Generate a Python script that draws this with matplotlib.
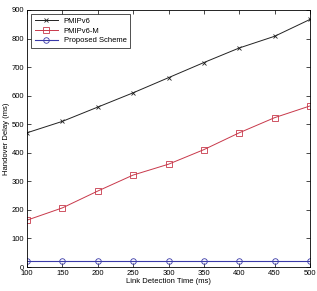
import numpy as np
import matplotlib.pyplot as plt

x = [100, 150, 200, 250, 300, 350, 400, 450, 500]
pmipv6 = [470, 510, 560, 610, 663, 716, 767, 808, 867]
pmipv6_m = [164, 207, 266, 322, 360, 411, 470, 523, 564]
proposed = [22, 22, 22, 22, 22, 22, 22, 22, 22]

plt.rcParams['font.family'] = 'Liberation Sans'
plt.rcParams['font.size'] = 5.5

fig = plt.figure(figsize=(3.17, 2.91), dpi=100)
ax = fig.add_axes([27 / 317, 1 - 267 / 291, (310 - 27) / 317, (267 - 10) / 291])

ax.plot(x, pmipv6, color='#222222', marker='x', ms=3, lw=0.7, mew=0.6, label='PMIPv6')
ax.plot(x, pmipv6_m, color='#c8384a', marker='s', ms=4, lw=0.7, mew=0.6,
        mfc='none', label='PMIPv6-M')
ax.plot(x, proposed, color='#3a3aa8', marker='o', ms=4, lw=0.8, mew=0.6,
        mfc='none', label='Proposed Scheme')

ax.set_xlim(100, 500)
ax.set_ylim(0, 900)
ax.set_xticks(range(100, 501, 50))
ax.set_yticks(range(0, 901, 100))
ax.tick_params(direction='in', top=True, right=True, length=3, width=0.5, pad=2)
for s in ax.spines.values():
    s.set_linewidth(0.6)

ax.set_xlabel('Link Detection Time (ms)', labelpad=1)
ax.set_ylabel('Handover Delay (ms)', labelpad=1)

leg = ax.legend(loc='upper left', fancybox=False, edgecolor='black',
                handlelength=3, borderpad=0.5, labelspacing=0.3)
leg.get_frame().set_linewidth(0.6)

fig.savefig('out.png', dpi=100)
